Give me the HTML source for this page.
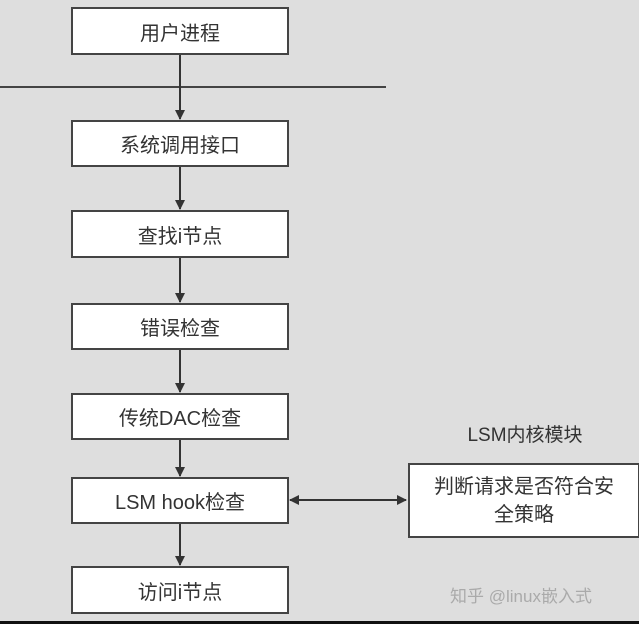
<!DOCTYPE html>
<html><head><style>
body{margin:0;width:639px;height:624px;background:#dedede;position:relative;overflow:hidden;font-family:"Liberation Sans","Noto Sans CJK SC",sans-serif;color:#333}
.b{position:absolute;left:71px;background:#fff;border:2px solid #444;box-sizing:border-box;width:218px;display:flex;align-items:center;justify-content:center;font-size:20px}
</style></head><body>
<svg width="639" height="624" style="position:absolute;left:0;top:0">
<defs><marker id="a" markerWidth="10" markerHeight="10" refX="9" refY="5" orient="auto" markerUnits="userSpaceOnUse"><path d="M0,0 L10,5 L0,10 z" fill="#333"/></marker></defs>
<line x1="0" y1="87" x2="386" y2="87" stroke="#444" stroke-width="2"/>
<g stroke="#333" stroke-width="2" marker-end="url(#a)">
<line x1="180" y1="54" x2="180" y2="119"/>
<line x1="180" y1="166" x2="180" y2="209"/>
<line x1="180" y1="258" x2="180" y2="302"/>
<line x1="180" y1="350" x2="180" y2="392"/>
<line x1="180" y1="440" x2="180" y2="476"/>
<line x1="180" y1="524" x2="180" y2="565"/>
<line x1="300" y1="500" x2="406" y2="500"/>
<line x1="396" y1="500" x2="290" y2="500"/>
</g>
</svg>
<div class="b" style="top:7px;height:48px">用户进程</div>
<div class="b" style="top:120px;height:47px">系统调用接口</div>
<div class="b" style="top:210px;height:48px">查找i节点</div>
<div class="b" style="top:303px;height:47px">错误检查</div>
<div class="b" style="top:393px;height:47px">传统DAC检查</div>
<div class="b" style="top:477px;height:47px">LSM hook检查</div>
<div class="b" style="top:566px;height:48px">访问i节点</div>
<div style="position:absolute;left:440px;top:420px;width:170px;text-align:center;font-size:19px">LSM内核模块</div>
<div style="position:absolute;left:408px;top:463px;width:232px;height:75px;background:#fff;border:2px solid #444;box-sizing:border-box;text-align:center;font-size:20px;line-height:28px;padding-top:8px">判断请求是否符合安<br>全策略</div>
<div style="position:absolute;left:450px;top:582px;font-size:17px;color:#aaa">知乎 @linux嵌入式</div>
<div style="position:absolute;left:0;top:621px;width:639px;height:3px;background:#111"></div>
</body></html>
